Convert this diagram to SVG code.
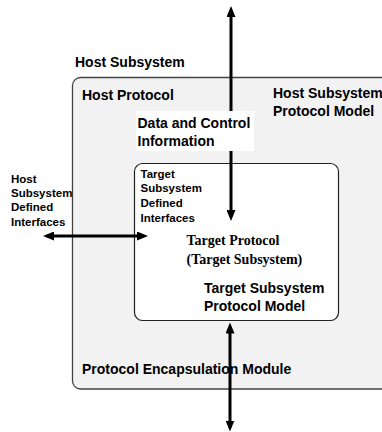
<svg xmlns="http://www.w3.org/2000/svg" width="382" height="432" viewBox="0 0 382 432">
  <style>
    .sans { font-family: "Liberation Sans", Arial, sans-serif; font-weight: bold; fill: #000; }
    .big { font-size: 14px; }
    .small { font-size: 11.5px; }
    .serif { font-family: "Liberation Serif", "Times New Roman", serif; font-weight: bold; font-size: 14px; fill: #000; }
    .conn { stroke: #000; stroke-width: 3; fill: none; marker-start: url(#head); marker-end: url(#head); }
  </style>
  <defs>
    <marker id="head" markerUnits="userSpaceOnUse" markerWidth="11" markerHeight="9" refX="7" refY="4.5" orient="auto-start-reverse">
      <path d="M0,0 L11,4.5 L0,9 Z" fill="#000"/>
    </marker>
  </defs>

  <rect width="382" height="432" fill="#fff"/>

  <!-- title above the host box -->
  <text class="sans big" x="75" y="66.5">Host Subsystem</text>

  <!-- host subsystem: protocol encapsulation module -->
  <g id="host-module">
    <rect x="72.5" y="77.5" width="330" height="311.5" rx="8" ry="8" fill="#f2f2f2" stroke="#444" stroke-width="1.3"/>
    <text class="sans big" x="82" y="100">Host Protocol</text>
    <text class="sans big" x="273" y="98">Host Subsystem</text>
    <text class="sans big" x="273" y="116">Protocol Model</text>
    <text class="sans big" x="82" y="373.5">Protocol Encapsulation Module</text>
  </g>

  <!-- target subsystem protocol model -->
  <g id="target-model">
    <rect x="134.5" y="163.5" width="204" height="157" rx="8" ry="8" fill="#fff" stroke="#222" stroke-width="1.2"/>
    <text class="sans small" x="140.5" y="177.5">Target</text>
    <text class="sans small" x="140.5" y="192.3">Subsystem</text>
    <text class="sans small" x="140.5" y="207.2">Defined</text>
    <text class="sans small" x="140.5" y="222.2">Interfaces</text>
    <text class="serif" x="186.5" y="245">Target Protocol</text>
    <text class="serif" x="186.5" y="263.5">(Target Subsystem)</text>
    <text class="sans big" x="204" y="292.5">Target Subsystem</text>
    <text class="sans big" x="204" y="311">Protocol Model</text>
  </g>

  <!-- host subsystem defined interfaces label -->
  <g id="host-interfaces">
    <text class="sans small" x="11" y="182.5">Host</text>
    <text class="sans small" x="11" y="196.8">Subsystem</text>
    <text class="sans small" x="11" y="211.2">Defined</text>
    <text class="sans small" x="11" y="225.8">Interfaces</text>
  </g>

  <g id="connectors">
    <!-- data and control path from outside down into the target -->
    <line class="conn" x1="231" y1="10" x2="231" y2="217"/>
    <rect x="136" y="111" width="118" height="40" fill="#fff"/>
    <text class="sans big" x="137.5" y="128">Data and Control</text>
    <text class="sans big" x="137.5" y="146">Information</text>
    <!-- interfaces -->
    <line class="conn" x1="47" y1="236" x2="144" y2="236"/>
    <!-- lower path -->
    <line class="conn" x1="230" y1="326.5" x2="230" y2="427.5"/>
  </g>
</svg>
